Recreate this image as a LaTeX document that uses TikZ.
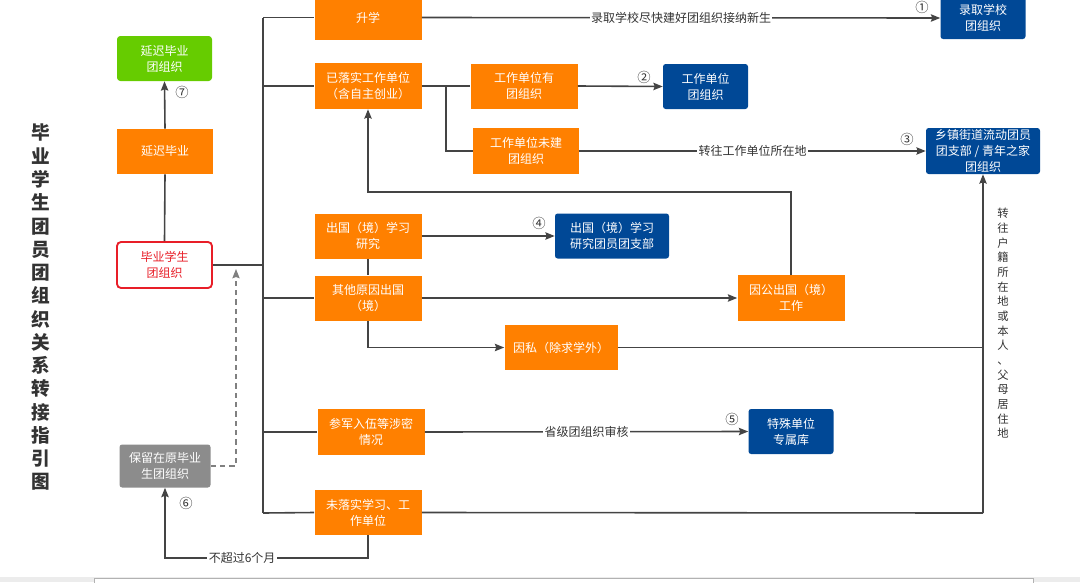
\documentclass[tikz,border=0pt]{standalone}
\usepackage{fontspec}
\setmainfont{Noto Sans CJK SC}
\usetikzlibrary{arrows.meta,calc}
\newdimen\pxu \pxu=0.75pt
\definecolor{myorange}{RGB}{255,128,0}
\definecolor{myblue}{RGB}{0,72,150}
\definecolor{mygreen}{RGB}{102,204,0}
\definecolor{mygray}{RGB}{140,140,140}
\definecolor{myred}{RGB}{232,30,40}
\definecolor{lncol}{RGB}{68,68,68}
\definecolor{txtcol}{RGB}{51,51,51}
\tikzset{
  bx/.style 2 args={minimum width=#1\pxu, minimum height=#2\pxu, inner sep=1pt, align=center, font=\fontsize{9}{12}\selectfont},
  ob/.style={fill=myorange, text=white},
  bb/.style={fill=myblue, text=white, rounded corners=2pt},
  gb/.style={fill=mygreen, text=white, rounded corners=2.5pt},
  rb/.style={draw=myred, line width=1.4pt, fill=white, text=myred, rounded corners=3pt},
  grb/.style={fill=mygray, text=white, rounded corners=2pt},
  ln/.style={draw=lncol, line width=1.2pt},
  arr/.style={ln, -{Stealth[length=7pt,width=5.5pt,inset=1pt]}},
  elab/.style={fill=white, inner sep=1pt, text=txtcol, font=\fontsize{9}{11}\selectfont},
  num/.style={text=txtcol, inner sep=0pt, font=\fontsize{10}{12}\selectfont},
}
\begin{document}
\begin{tikzpicture}[x=0.75pt,y=-0.75pt]
\useasboundingbox (0,0) rectangle (1080,582);
% bottom strip
\fill[gray!15] (0,577) rectangle (1080,582);
\draw[gray!60, fill=white] (94,578) rectangle (1033,583);

% title
\node[text=txtcol, align=center, font=\fontsize{14}{17.45}\selectfont\bfseries] (title) at (41,307.5)
 {毕\\业\\学\\生\\团\\员\\团\\组\\织\\关\\系\\转\\接\\指\\引\\图};

% nodes
\node[bx={95}{45}, gb] (yanchizz) at (164.5,58.5) {延迟毕业\\团组织};
\node[bx={96}{45}, ob] (yanchi) at (165,151.5) {延迟毕业};
\node[bx={95}{46}, rb] (grad) at (164.5,265) {毕业学生\\团组织};
\node[bx={91}{43}, grb] (baoliu) at (165,466) {保留在原毕业\\生团组织};

\node[bx={107}{45}, ob] (shengxue) at (368,17.5) {升学};
\node[bx={85}{42}, bb] (luqu) at (983,18) {录取学校\\团组织};
\node[bx={107}{46}, ob] (yiluoshi) at (368,86) {已落实工作单位\\（含自主创业）};
\node[bx={107}{45}, ob] (youzz) at (524,86) {工作单位有\\团组织};
\node[bx={85}{45}, bb] (gzdw) at (705.5,86.5) {工作单位\\团组织};
\node[bx={106}{46}, ob] (weijian) at (526,151) {工作单位未建\\团组织};
\node[bx={114}{46}, bb] (xiangzhen) at (983,151) {乡镇街道流动团员\\团支部 / 青年之家\\团组织};
\node[bx={107}{45}, ob] (chuguo) at (368,236) {出国（境）学习\\研究};
\node[bx={114}{45}, bb] (zhibu) at (612,236) {出国（境）学习\\研究团员团支部};
\node[bx={107}{45}, ob] (qita) at (368,298) {其他原因出国\\（境）};
\node[bx={107}{46}, ob] (yingong) at (791,298) {因公出国（境）\\工作};
\node[bx={113}{45}, ob] (yinsi) at (561,347.5) {因私（除求学外）};
\node[bx={107}{46}, ob] (canjun) at (371,432) {参军入伍等涉密\\情况};
\node[bx={85}{45}, bb] (teshu) at (791,431.5) {特殊单位\\专属库};
\node[bx={107}{45}, ob] (weiluoshi) at (368,512.5) {未落实学习、工\\作单位};

% coordinates
\coordinate (tA) at (263,17.5);
\coordinate (tB) at (263,513);
\coordinate (rv) at (983,513);
\coordinate (dtop) at (236,269);

% trunk
\draw[ln] (tA) -- (tB);
\draw[ln] (grad.east) -- (grad.east -| tA);
\draw[ln] (tA) -- (shengxue.west);
\draw[ln] (tA |- yiluoshi.west) -- (yiluoshi.west);
\draw[ln] (tA |- qita.west) -- (qita.west);
\draw[ln] (tA |- canjun.west) -- (canjun.west);
\draw[ln] (tB) -- (weiluoshi.west);

% left column
\draw[ln] (grad.north) -- (yanchi.south);
\draw[arr] (yanchi.north) -- (yanchizz.south);
\draw[arr, dashed, dash pattern=on 4pt off 3pt, line width=0.8pt, draw=gray] (baoliu.east) -| (dtop);
\draw[arr] (weiluoshi.south) -- ++(0,23) -| node[pos=0.31, elab]{不超过6个月} (baoliu.south);

% right side
\draw[arr] (shengxue.east) -- node[elab]{录取学校尽快建好团组织接纳新生} (luqu.west);
\draw[ln] (yiluoshi.east) -- (youzz.west);
\draw[arr] (youzz.east) -- (gzdw.west);
\draw[ln] ($(yiluoshi.east)!0.5!(youzz.west)$) |- (weijian.west);
\draw[arr] (weijian.east) -- node[elab]{转往工作单位所在地} (xiangzhen.west);
\draw[arr] (yingong.north) -- ++(0,-83) -| (yiluoshi.south);
\draw[arr] (chuguo.east) -- (zhibu.west);
\draw[ln] (chuguo.south) -- (qita.north);
\draw[arr] (qita.east) -- (yingong.west);
\draw[arr] (qita.south) |- (yinsi.west);
\draw[ln] (yinsi.east) -- (yinsi.east -| rv);
\draw[ln] (weiluoshi.east) -- (rv);
\draw[arr] (rv) -- (xiangzhen.south);
\draw[arr] (canjun.east) -- node[elab]{省级团组织审核} (teshu.west);

% vertical label
\node[text=txtcol, align=center, inner sep=0pt, font=\fontsize{8.5}{11}\selectfont, anchor=north] (vlab) at (1003,208)
 {转\\往\\户\\籍\\所\\在\\地\\或\\本\\人\\、\\父\\母\\居\\住\\地};

% circled numbers
\node[num] (n1) at (922,7.5) {①};
\node[num] (n2) at (644,77) {②};
\node[num] (n3) at (907,139) {③};
\node[num] (n4) at (539,223.5) {④};
\node[num] (n5) at (732,419.5) {⑤};
\node[num] (n6) at (186,503) {⑥};
\node[num] (n7) at (182,92) {⑦};
\end{tikzpicture}
\end{document}
